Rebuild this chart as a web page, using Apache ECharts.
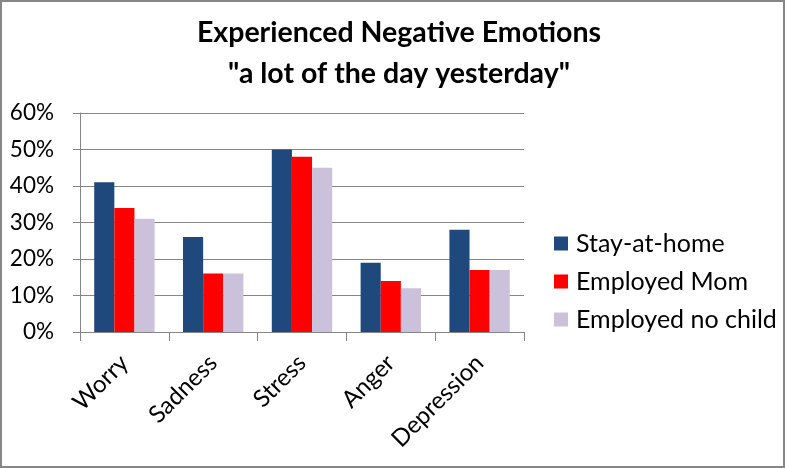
<!DOCTYPE html>
<html>
<head>
<meta charset="utf-8">
<script src="https://cdn.jsdelivr.net/npm/echarts@6/dist/echarts.min.js"></script>
<style>html,body{margin:0;padding:0;background:#fff}#c{width:785px;height:468px}</style>
</head>
<body>
<div id="c"></div>
<script>
const categories = ["Worry", "Sadness", "Stress", "Anger", "Depression"];
const seriesNames = ["Stay-at-home", "Employed Mom", "Employed no child"];
const stayAtHome = [41, 26, 50, 19, 28];
const employedMom = [34, 16, 48, 14, 17];
const employedNoChild = [31, 16, 45, 12, 17];
const yTicks = [0, 10, 20, 30, 40, 50, 60];
const colors = ["#1F497D", "#FF0000", "#CCC1DA"];
const titleLines = ["Experienced Negative Emotions", "\"a lot of the day yesterday\""];

const FONT = "Lato, 'Open Sans', sans-serif";
const chart = echarts.init(document.getElementById('c'), null, {renderer: 'canvas'});
const values = [stayAtHome, employedMom, employedNoChild];
chart.setOption({
  animation: false,
  backgroundColor: '#fff',
  graphic: [{
    type: 'rect', shape: {x: 1, y: 1, width: 783, height: 466},
    style: {fill: 'none', stroke: '#868686', lineWidth: 2}, silent: true
  }, {
    type: 'text', x: 399, y: 12, silent: true,
    style: {
      text: titleLines.join('\n'), align: 'center', verticalAlign: 'top',
      font: 'bold 28.5px ' + FONT, lineHeight: 41, fill: '#000'
    }
  }],
  legend: {
    orient: 'vertical', left: 549, top: 226,
    itemWidth: 14, itemHeight: 14, itemGap: 13,
    icon: 'rect',
    data: seriesNames,
    textStyle: {fontFamily: FONT, fontSize: 25, lineHeight: 25, color: '#000', padding: [0, 0, 0, 3]}
  },
  grid: {left: 80, right: 261, top: 113, bottom: 136, containLabel: false},
  xAxis: {
    type: 'category', data: categories,
    axisLine: {lineStyle: {color: '#868686', width: 1}},
    axisTick: {show: true, length: 9, lineStyle: {color: '#868686'}},
    axisLabel: {rotate: 45, fontFamily: FONT, fontSize: 24, color: '#000', margin: 27, interval: 0}
  },
  yAxis: {
    type: 'value', min: yTicks[0], max: yTicks[yTicks.length - 1], interval: 10,
    axisLine: {show: true, lineStyle: {color: '#868686'}},
    axisTick: {show: true, length: 7, lineStyle: {color: '#868686'}},
    splitLine: {lineStyle: {color: '#868686', width: 1}},
    axisLabel: {formatter: '{value}%', fontFamily: FONT, fontSize: 22.5, color: '#000', margin: 26}
  },
  series: seriesNames.map((n, i) => ({
    name: n, type: 'bar', data: values[i],
    barGap: '0%', barCategoryGap: '32%',
    itemStyle: {color: colors[i]}
  }))
});
</script>
</body>
</html>
